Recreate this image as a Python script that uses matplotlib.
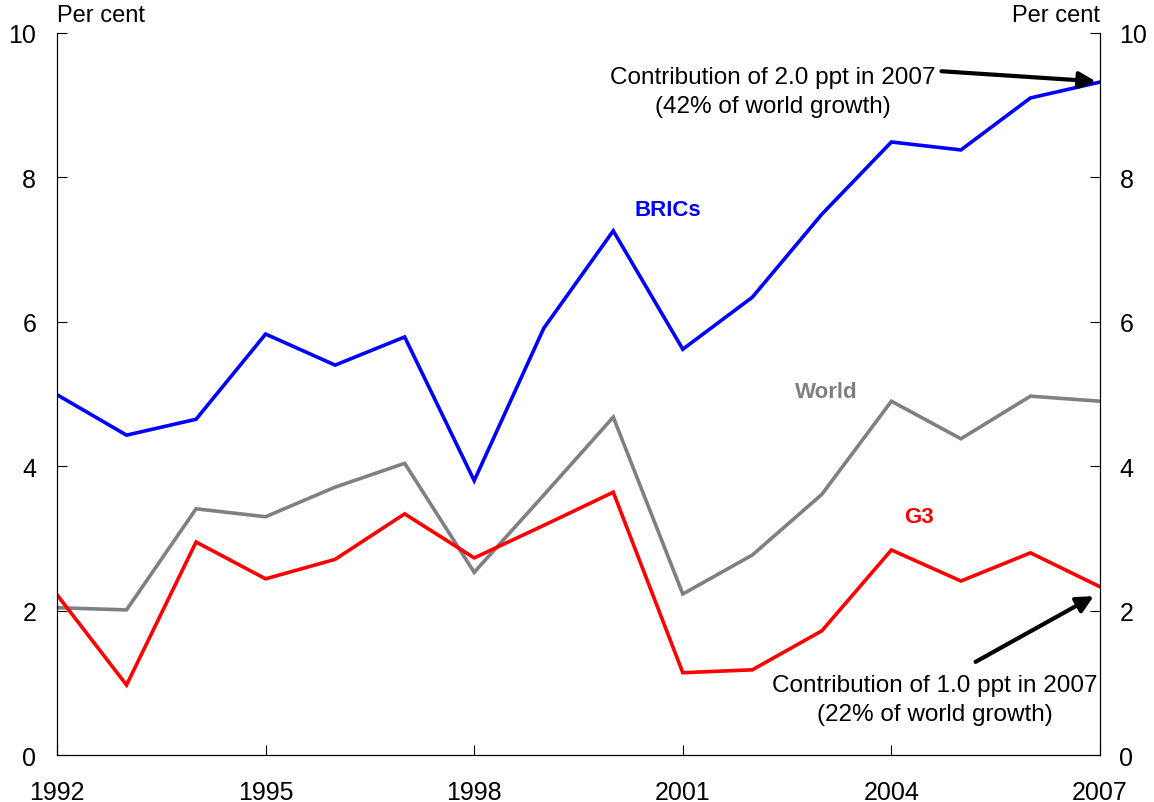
import numpy as np
import matplotlib
matplotlib.use("Agg")
import matplotlib.pyplot as plt

# ── Données (croissance du PIB, en %) ─────────────────────────────────────
years = list(range(1992, 2008))
brics = [4.99, 4.43, 4.65, 5.83, 5.40, 5.79, 3.80, 5.91, 7.26, 5.62,
         6.34, 7.49, 8.49, 8.38, 9.10, 9.32]
world = [2.04, 2.01, 3.41, 3.30, 3.71, 4.04, 2.53, 3.60, 4.68, 2.23,
         2.77, 3.61, 4.90, 4.38, 4.97, 4.90]
g3 = [2.22, 0.97, 2.95, 2.44, 2.71, 3.34, 2.73, 3.18, 3.64, 1.14,
      1.18, 1.72, 2.84, 2.41, 2.80, 2.33]
xticks = [1992, 1995, 1998, 2001, 2004, 2007]
yticks = [0, 2, 4, 6, 8, 10]

plt.rcParams["font.family"] = ["Liberation Sans", "DejaVu Sans"]
FS = 17.5

fig = plt.figure(figsize=(11.54, 8.03), dpi=100)
ax = fig.add_axes([0.0494, 0.0585, 0.9038, 0.8992])

ax.plot(years, brics, color="#0000ff", lw=2.6, solid_joinstyle="miter")
ax.plot(years, world, color="#808080", lw=2.6, solid_joinstyle="miter")
ax.plot(years, g3, color="#ff0000", lw=2.6, solid_joinstyle="miter")

ax.set_xlim(1992, 2007)
ax.set_ylim(0, 10)
ax.set_xticks(xticks)
ax.set_yticks(yticks)
ax.tick_params(axis="x", direction="in", length=7, pad=18, labelsize=18)
ax.tick_params(axis="y", direction="in", length=7, pad=15, labelsize=18)
ax.spines["top"].set_visible(False)

ax2 = ax.twinx()
ax2.set_ylim(0, 10)
ax2.set_yticks(yticks)
ax2.tick_params(axis="y", direction="in", length=7, pad=14, labelsize=18)
ax2.spines["top"].set_visible(False)

# étiquettes d'unité
ax.text(0.0, 1.01, "Per cent", transform=ax.transAxes, ha="left", va="bottom", fontsize=17)
ax.text(1.0, 1.01, "Per cent", transform=ax.transAxes, ha="right", va="bottom", fontsize=17)

# noms des séries
ax.text(2000.78, 7.56, "BRICs", color="#0000ff", fontweight="bold", fontsize=16,
        ha="center", va="center")
ax.text(2003.06, 5.04, "World", color="#808080", fontweight="bold", fontsize=16,
        ha="center", va="center")
ax.text(2004.39, 3.31, "G3", color="#ff0000", fontweight="bold", fontsize=16,
        ha="center", va="center")

# annotations avec flèches
arrow = dict(arrowstyle="-|>,head_length=1.0,head_width=0.5", color="black", lw=3,
             shrinkA=0, shrinkB=0)
ax.annotate("", xy=(2006.94, 9.33), xytext=(2004.72, 9.47), arrowprops=arrow)
ax.text(2002.30, 9.19, "Contribution of 2.0 ppt in 2007\n(42% of world growth)",
        ha="center", va="center", fontsize=FS, linespacing=1.45)

ax.annotate("", xy=(2006.91, 2.2), xytext=(2005.21, 1.29), arrowprops=arrow)
ax.text(2004.62, 0.77, "Contribution of 1.0 ppt in 2007\n(22% of world growth)",
        ha="center", va="center", fontsize=FS, linespacing=1.45)

fig.savefig("out.png", dpi=100)
